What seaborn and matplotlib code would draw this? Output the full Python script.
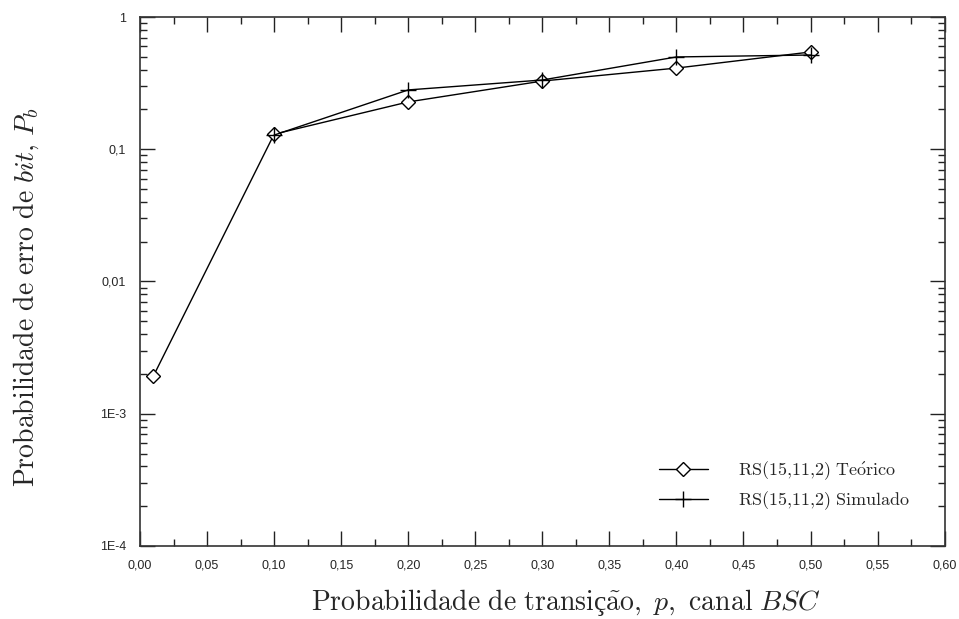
import matplotlib
matplotlib.use('Agg')
import matplotlib.pyplot as plt
from matplotlib.ticker import MultipleLocator, LogLocator, FuncFormatter, NullFormatter
import seaborn as sns

# dados
p_teorico = [0.01, 0.10, 0.20, 0.30, 0.40, 0.50]
pb_teorico = [1.93e-3, 0.130, 0.228, 0.328, 0.411, 0.544]
p_simulado = [0.10, 0.20, 0.30, 0.40, 0.50]
pb_simulado = [0.128, 0.281, 0.334, 0.499, 0.516]

y_labels = {1.0: '1', 0.1: '0,1', 0.01: '0,01', 1e-3: '1E-3', 1e-4: '1E-4'}

sns.set_style('ticks')
plt.rcParams['font.family'] = ['Liberation Sans', 'DejaVu Sans']
plt.rcParams['mathtext.fontset'] = 'cm'

fig = plt.figure(figsize=(9.59, 6.19), dpi=100)
ax = fig.add_axes([0.146, 0.118, 0.839, 0.8545])

sns.lineplot(x=p_teorico, y=pb_teorico, ax=ax, color='black', linewidth=1.0,
             marker='D', markersize=7.5, markerfacecolor='white', markeredgecolor='black',
             markeredgewidth=1.0, label=r'$\mathrm{RS(15{,}11{,}2)\ Te\acute{o}rico}$')
sns.lineplot(x=p_simulado, y=pb_simulado, ax=ax, color='black', linewidth=1.0,
             marker='+', markersize=11, markeredgecolor='black', markeredgewidth=1.0,
             label=r'$\mathrm{RS(15{,}11{,}2)\ Simulado}$')

ax.set_yscale('log')
ax.set_xlim(0, 0.6)
ax.set_ylim(1e-4, 1)

ax.xaxis.set_major_locator(MultipleLocator(0.05))
ax.xaxis.set_minor_locator(MultipleLocator(0.025))
ax.xaxis.set_major_formatter(FuncFormatter(lambda v, pos: f'{v:.2f}'.replace('.', ',')))
ax.yaxis.set_major_locator(LogLocator(base=10, numticks=10))
ax.yaxis.set_minor_locator(LogLocator(base=10, subs=range(2, 10), numticks=20))
ax.yaxis.set_major_formatter(FuncFormatter(lambda v, pos: y_labels.get(round(v, 6), '')))
ax.yaxis.set_minor_formatter(NullFormatter())

ax.tick_params(which='both', direction='in', top=True, right=True, color='#222222')
ax.tick_params(which='major', length=11, width=1.0, labelsize=9, pad=10)
ax.tick_params(which='minor', length=5, width=1.0)

for s in ax.spines.values():
    s.set_linewidth(1.2)
    s.set_color('#333333')

ax.set_xlabel(r'$\mathrm{Probabilidade\ de\ transi}$ç$\mathrm{\tilde{a}o,}\ p\mathrm{,\ canal}\ BSC$',
              fontsize=20, family=['Liberation Serif', 'DejaVu Serif'])
ax.set_ylabel(r'$\mathrm{Probabilidade\ de\ erro\ de}\ bit\mathrm{,}\ P_b$', fontsize=20)
ax.xaxis.set_label_coords(0.53, -0.078)
ax.yaxis.set_label_coords(-0.123, 0.47)

leg = ax.legend(loc='lower right', bbox_to_anchor=(0.978, 0.034), frameon=False,
                fontsize=13, handlelength=2.7, labelspacing=0.4, handletextpad=1.7)

fig.savefig('out.png', dpi=100)
